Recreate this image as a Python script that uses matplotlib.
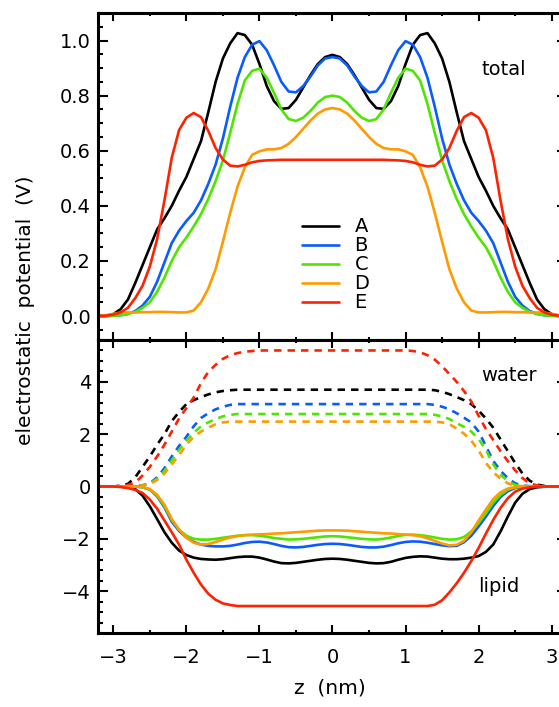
"""
Electrostatic potential profiles across the bilayer (z) for systems A-E.
Top: total potential. Bottom: water (dashed) and lipid (solid) contributions.
Output: out.png
"""

import numpy as np
import matplotlib
matplotlib.use("Agg")
import matplotlib.pyplot as plt
from matplotlib.ticker import MultipleLocator, FormatStrFormatter

plt.rcParams["font.family"] = ["DejaVu Sans"]

# ── Data (z in nm, potential in V) ───────────────────────────────────────────
z = np.round(np.arange(-32, 33) / 10.0, 1)   # sampling grid, -3.2 ... 3.2

labels = ["A", "B", "C", "D", "E"]
colors = ["#000000", "#0a5cff", "#4ee600", "#ff9a00", "#ff2200"]

total_A = [0.0, 0.001, 0.007, 0.025, 0.06, 0.12, 0.185, 0.25, 0.315, 0.355, 0.40, 0.455,
           0.505, 0.57, 0.635, 0.74, 0.85, 0.935, 0.99, 1.027, 1.02, 0.985, 0.915, 0.835,
           0.78, 0.752, 0.755, 0.785, 0.83, 0.875, 0.915, 0.94,
           0.948,
           0.94, 0.915, 0.875, 0.83, 0.785, 0.755, 0.752, 0.78, 0.835, 0.915, 0.985, 1.02,
           1.027, 0.99, 0.935, 0.85, 0.74, 0.635, 0.57, 0.505, 0.455, 0.40, 0.355, 0.315,
           0.25, 0.185, 0.12, 0.06, 0.025, 0.007, 0.001, 0.0]
total_B = [0.0, 0.0, 0.001, 0.003, 0.008, 0.018, 0.038, 0.07, 0.125, 0.195, 0.265, 0.31,
           0.345, 0.375, 0.42, 0.48, 0.55, 0.645, 0.76, 0.865, 0.94, 0.985, 0.998, 0.965,
           0.91, 0.85, 0.815, 0.812, 0.835, 0.87, 0.91, 0.935,
           0.94,
           0.935, 0.91, 0.87, 0.835, 0.812, 0.815, 0.85, 0.91, 0.965, 0.998, 0.985, 0.94,
           0.865, 0.76, 0.645, 0.55, 0.48, 0.42, 0.375, 0.345, 0.31, 0.265, 0.195, 0.125,
           0.07, 0.038, 0.018, 0.008, 0.003, 0.001, 0.0, 0.0]
total_C = [0.0, 0.0, 0.001, 0.003, 0.007, 0.015, 0.03, 0.05, 0.088, 0.14, 0.20, 0.25,
           0.285, 0.325, 0.37, 0.425, 0.49, 0.565, 0.665, 0.77, 0.855, 0.89, 0.898, 0.865,
           0.81, 0.75, 0.715, 0.708, 0.72, 0.745, 0.775, 0.795,
           0.80,
           0.795, 0.775, 0.745, 0.72, 0.708, 0.715, 0.75, 0.81, 0.865, 0.898, 0.89, 0.855,
           0.77, 0.665, 0.565, 0.49, 0.425, 0.37, 0.325, 0.285, 0.25, 0.20, 0.14, 0.088,
           0.05, 0.03, 0.015, 0.007, 0.003, 0.001, 0.0, 0.0]
total_D = [0.0, 0.003, 0.008, 0.012, 0.013, 0.013, 0.014, 0.014, 0.015, 0.015, 0.014, 0.013,
           0.013, 0.02, 0.05, 0.10, 0.17, 0.27, 0.375, 0.47, 0.54, 0.585, 0.598, 0.605,
           0.605, 0.61, 0.625, 0.65, 0.68, 0.71, 0.735, 0.75,
           0.755,
           0.75, 0.735, 0.71, 0.68, 0.65, 0.625, 0.61, 0.605, 0.605, 0.598, 0.585, 0.54,
           0.47, 0.375, 0.27, 0.17, 0.10, 0.05, 0.02, 0.013, 0.013, 0.014, 0.015, 0.015,
           0.014, 0.014, 0.013, 0.013, 0.012, 0.008, 0.003, 0.0]
total_E = [0.0, 0.001, 0.005, 0.013, 0.03, 0.065, 0.11, 0.18, 0.28, 0.42, 0.575, 0.675,
           0.72, 0.737, 0.722, 0.672, 0.61, 0.568, 0.546, 0.543, 0.549, 0.558, 0.563, 0.565,
           0.566, 0.567, 0.567, 0.567, 0.567, 0.567, 0.567, 0.567,
           0.567,
           0.567, 0.567, 0.567, 0.567, 0.567, 0.567, 0.567, 0.566, 0.565, 0.563, 0.558,
           0.549, 0.543, 0.546, 0.568, 0.61, 0.672, 0.722, 0.737, 0.72, 0.675, 0.575, 0.42,
           0.28, 0.18, 0.11, 0.065, 0.03, 0.013, 0.005, 0.001, 0.0]

water_A = [0.0, 0.0, 0.0, 0.03, 0.10, 0.35, 0.75, 1.15, 1.6, 2.0, 2.5, 2.85, 3.15, 3.3,
           3.42, 3.52, 3.6, 3.65, 3.68, 3.70, 3.70, 3.70, 3.70, 3.70, 3.70, 3.70, 3.70,
           3.70, 3.70, 3.70, 3.70, 3.70,
           3.70,
           3.70, 3.70, 3.70, 3.70, 3.70, 3.70, 3.70, 3.70, 3.70, 3.70, 3.70, 3.70, 3.70,
           3.68, 3.62, 3.53, 3.42, 3.3, 3.15, 2.9, 2.6, 2.25, 1.8, 1.35, 0.9, 0.5, 0.22,
           0.07, 0.02, 0.0, 0.0, 0.0]
water_B = [0.0, 0.0, 0.0, 0.0, 0.0, 0.01, 0.05, 0.12, 0.35, 0.7, 1.15, 1.55, 1.9, 2.3,
           2.62, 2.8, 2.95, 3.05, 3.12, 3.15, 3.15, 3.15, 3.15, 3.15, 3.15, 3.15, 3.15,
           3.15, 3.15, 3.15, 3.15, 3.15,
           3.15,
           3.15, 3.15, 3.15, 3.15, 3.15, 3.15, 3.15, 3.15, 3.15, 3.15, 3.15, 3.15, 3.15,
           3.12, 3.05, 2.95, 2.8, 2.63, 2.45, 2.1, 1.55, 0.98, 0.6, 0.32, 0.12, 0.04, 0.01,
           0.0, 0.0, 0.0, 0.0, 0.0]
water_C = [0.0, 0.0, 0.0, 0.0, 0.0, 0.0, 0.04, 0.10, 0.30, 0.6, 1.0, 1.4, 1.75, 2.05,
           2.3, 2.45, 2.58, 2.68, 2.74, 2.77, 2.77, 2.77, 2.77, 2.77, 2.77, 2.77, 2.77,
           2.77, 2.77, 2.77, 2.77, 2.77,
           2.77,
           2.77, 2.77, 2.77, 2.77, 2.77, 2.77, 2.77, 2.77, 2.77, 2.77, 2.77, 2.77, 2.77,
           2.74, 2.68, 2.58, 2.42, 2.28, 2.1, 1.82, 1.4, 0.85, 0.45, 0.2, 0.06, 0.02, 0.0,
           0.0, 0.0, 0.0, 0.0, 0.0]
water_D = [0.0, 0.0, 0.0, 0.0, 0.0, 0.0, 0.03, 0.10, 0.25, 0.5, 0.85, 1.2, 1.6, 1.9,
           2.1, 2.25, 2.38, 2.45, 2.48, 2.48, 2.48, 2.48, 2.48, 2.48, 2.48, 2.48, 2.48,
           2.48, 2.48, 2.48, 2.48, 2.48,
           2.48,
           2.48, 2.48, 2.48, 2.48, 2.48, 2.48, 2.48, 2.48, 2.48, 2.48, 2.48, 2.48, 2.48,
           2.48, 2.45, 2.38, 2.22, 2.02, 1.75, 1.38, 0.9, 0.55, 0.3, 0.12, 0.04, 0.01, 0.0,
           0.0, 0.0, 0.0, 0.0, 0.0]
water_E = [0.0, 0.0, 0.0, 0.02, 0.06, 0.15, 0.42, 0.75, 1.15, 1.6, 2.1, 2.6, 3.0, 3.4,
           3.95, 4.38, 4.65, 4.88, 5.02, 5.1, 5.15, 5.18, 5.2, 5.2, 5.2, 5.2, 5.2, 5.2,
           5.2, 5.2, 5.2, 5.2,
           5.2,
           5.2, 5.2, 5.2, 5.2, 5.2, 5.2, 5.2, 5.2, 5.2, 5.2, 5.18, 5.13, 5.02, 4.85, 4.6,
           4.3, 4.0, 3.65, 3.25, 2.7, 2.2, 1.78, 1.35, 0.97, 0.62, 0.32, 0.12, 0.04, 0.01,
           0.0, 0.0, 0.0]

lipid_A = [0.0, 0.0, 0.0, -0.01, -0.02, -0.1, -0.35, -0.76, -1.25, -1.75, -2.15, -2.45,
           -2.62, -2.72, -2.77, -2.79, -2.8, -2.78, -2.74, -2.7, -2.68, -2.68, -2.72,
           -2.79, -2.87, -2.93, -2.94, -2.92, -2.88, -2.84, -2.8, -2.77,
           -2.76,
           -2.77, -2.8, -2.84, -2.88, -2.92, -2.94, -2.93, -2.88, -2.8, -2.73, -2.69, -2.67,
           -2.68, -2.72, -2.76, -2.78, -2.78, -2.76, -2.72, -2.66, -2.5, -2.22, -1.72,
           -1.15, -0.62, -0.28, -0.1, -0.03, -0.01, 0.0, 0.0, 0.0]
lipid_B = [0.0, 0.0, 0.0, 0.0, 0.0, 0.0, -0.03, -0.12, -0.38, -0.8, -1.35, -1.7, -1.95,
           -2.12, -2.22, -2.27, -2.29, -2.29, -2.27, -2.22, -2.16, -2.12, -2.11, -2.14,
           -2.2, -2.27, -2.32, -2.33, -2.31, -2.27, -2.23, -2.2,
           -2.19,
           -2.2, -2.23, -2.27, -2.31, -2.33, -2.33, -2.3, -2.24, -2.17, -2.12, -2.1, -2.11,
           -2.15, -2.2, -2.25, -2.28, -2.27, -2.13, -1.88, -1.53, -1.15, -0.75, -0.4,
           -0.18, -0.06, -0.02, 0.0, 0.0, 0.0, 0.0, 0.0, 0.0]
lipid_C = [0.0, 0.0, 0.0, 0.0, 0.0, 0.0, -0.03, -0.12, -0.35, -0.75, -1.28, -1.65, -1.88,
           -2.0, -2.03, -2.03, -2.0, -1.96, -1.92, -1.88, -1.86, -1.86, -1.88, -1.92,
           -1.97, -2.0, -2.03, -2.02, -2.0, -1.97, -1.94, -1.91,
           -1.9,
           -1.91, -1.94, -1.97, -2.0, -2.02, -2.03, -2.0, -1.95, -1.89, -1.85, -1.84, -1.86,
           -1.9, -1.95, -2.0, -2.03, -2.02, -1.93, -1.72, -1.4, -1.02, -0.62, -0.32, -0.12,
           -0.04, -0.01, 0.0, 0.0, 0.0, 0.0, 0.0, 0.0]
lipid_D = [0.0, 0.0, 0.0, 0.0, 0.0, 0.0, -0.02, -0.1, -0.32, -0.7, -1.25, -1.65, -1.95,
           -2.15, -2.22, -2.2, -2.12, -2.03, -1.95, -1.9, -1.86, -1.84, -1.83, -1.82, -1.8,
           -1.79, -1.77, -1.75, -1.73, -1.71, -1.69, -1.68,
           -1.68,
           -1.68, -1.69, -1.71, -1.73, -1.75, -1.77, -1.79, -1.8, -1.82, -1.84, -1.86, -1.9,
           -1.98, -2.08, -2.18, -2.25, -2.23, -2.08, -1.75, -1.3, -0.88, -0.48, -0.22,
           -0.08, -0.02, 0.0, 0.0, 0.0, 0.0, 0.0, 0.0, 0.0]
lipid_E = [0.0, 0.0, 0.0, -0.02, -0.06, -0.13, -0.25, -0.5, -0.85, -1.3, -1.75, -2.22,
           -2.8, -3.3, -3.75, -4.1, -4.33, -4.47, -4.53, -4.57, -4.57, -4.57, -4.57, -4.57,
           -4.57, -4.57, -4.57, -4.57, -4.57, -4.57, -4.57, -4.57,
           -4.57,
           -4.57, -4.57, -4.57, -4.57, -4.57, -4.57, -4.57, -4.57, -4.57, -4.57, -4.57,
           -4.57, -4.57, -4.52, -4.35, -4.05, -3.7, -3.3, -2.85, -2.35, -1.8, -1.28, -0.82,
           -0.45, -0.2, -0.08, -0.03, -0.01, 0.0, 0.0, 0.0, 0.0]

total = [total_A, total_B, total_C, total_D, total_E]
water = [water_A, water_B, water_C, water_D, water_E]
lipid = [lipid_A, lipid_B, lipid_C, lipid_D, lipid_E]

# ── Figure ────────────────────────────────────────────────────────────────────
fig = plt.figure(figsize=(5.59, 7.07), dpi=100)
# right spine sits just past the figure edge, as in the original crop
ax1 = fig.add_axes([0.1753, 0.5191, 0.839, 0.4625])
ax2 = fig.add_axes([0.1753, 0.1047, 0.839, 0.4144])

LW = 1.9
for vals, c, lab in zip(total, colors, labels):
    ax1.plot(z, vals, color=c, lw=LW, label=lab, solid_capstyle="round")
for vals, c in zip(water, colors):
    ax2.plot(z, vals, color=c, lw=LW, linestyle=(0, (2.8, 2.3)))
for vals, c in zip(lipid, colors):
    ax2.plot(z, vals, color=c, lw=LW)

for ax in (ax1, ax2):
    ax.set_xlim(-3.21, 3.21)
    ax.xaxis.set_major_locator(MultipleLocator(1))
    ax.xaxis.set_minor_locator(MultipleLocator(0.5))
    for s in ax.spines.values():
        s.set_linewidth(2.2)
    ax.tick_params(which="both", direction="in", top=True, right=True,
                   labelsize=14, width=1.5)
    ax.tick_params(axis="x", which="major", length=5.5, pad=11)
    ax.tick_params(axis="x", which="minor", length=2.5)
    ax.tick_params(axis="y", which="major", length=7.5, pad=5)
    ax.tick_params(axis="y", which="minor", length=3.5)

ax1.set_ylim(-0.087, 1.10)
ax1.yaxis.set_major_locator(MultipleLocator(0.2))
ax1.yaxis.set_minor_locator(MultipleLocator(0.05))
ax1.yaxis.set_major_formatter(FormatStrFormatter("%.1f"))
ax1.tick_params(labelbottom=False)

ax2.set_ylim(-5.6, 5.6)
ax2.yaxis.set_major_locator(MultipleLocator(2))
ax2.yaxis.set_minor_locator(MultipleLocator(0.4))

ax1.text(2.34, 0.894, "total", fontsize=14, ha="center", va="center")
ax2.text(2.42, 4.25, "water", fontsize=14, ha="center", va="center")
ax2.text(2.28, -3.82, "lipid", fontsize=14, ha="center", va="center")

ax1.legend(loc="upper left", bbox_to_anchor=(0.435, 0.375), frameon=False,
           fontsize=14, handlelength=1.9, handletextpad=0.8, labelspacing=0.0,
           borderaxespad=0, borderpad=0)

fig.text(0.045, 0.5615, "electrostatic  potential  (V)", rotation=90,
         fontsize=14.5, ha="center", va="center")
fig.text(330 / 559, 1 - 688 / 707, "z  (nm)", fontsize=14.5, ha="center", va="center")

fig.savefig("out.png", dpi=100)
plt.close(fig)
